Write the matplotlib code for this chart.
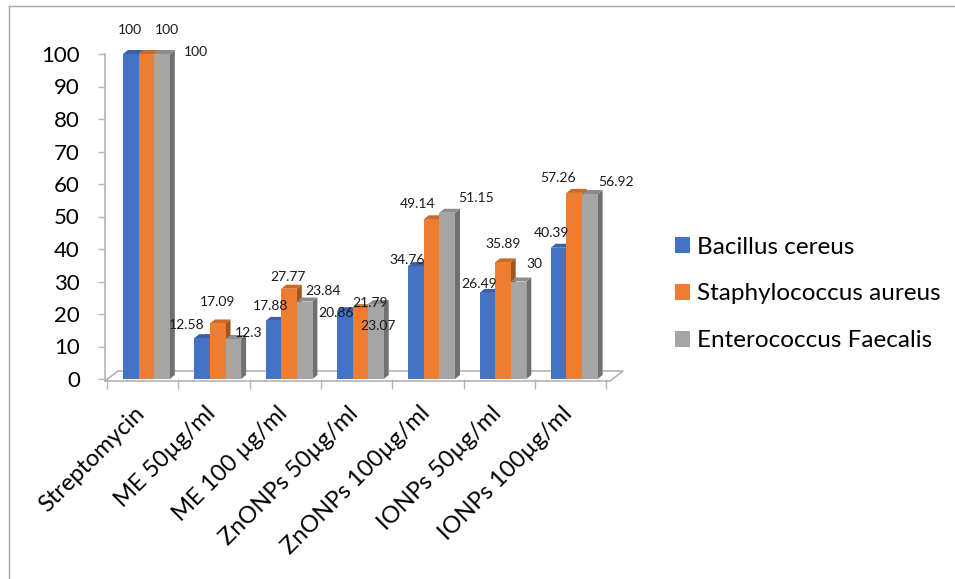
import numpy as np
import matplotlib.pyplot as plt
from matplotlib.patches import Polygon
from matplotlib.lines import Line2D
import matplotlib.colors as mcolors
import matplotlib.transforms as mtransforms

plt.rcParams['font.family'] = ['Lato', 'DejaVu Sans']

categories = ['Streptomycin', 'ME 50µg/ml', 'ME 100 µg/ml', 'ZnONPs 50µg/ml',
              'ZnONPs 100µg/ml', 'IONPs 50µg/ml', 'IONPs 100µg/ml']
series = ['Bacillus cereus', 'Staphylococcus aureus', 'Enterococcus Faecalis']
bacillus = [100, 12.58, 17.88, 20.86, 34.76, 26.49, 40.39]
staph = [100, 17.09, 27.77, 21.79, 49.14, 35.89, 57.26]
entero = [100, 12.3, 23.84, 23.07, 51.15, 30, 56.92]
colors = ['#4472C4', '#ED7D31', '#A5A5A5']

# data label offsets in pixels (dx, dy downwards), Excel puts them oddly in 3D
label_off = [
    [(-1, -24), (-15, -13), (-3, -15), (-9, 2), (-9, -6), (-8, -9), (-7, -15)],
    [(21, -24), (0, -21), (-1, -12), (10, -5), (-14, -15), (0, -18), (-16, -15)],
    [(34, -2), (15, -6), (18, -11), (2, 22), (29, -15), (16, -17), (26, -12)],
]

W, H = 955, 579
fig = plt.figure(figsize=(W / 100, H / 100), dpi=100)

# pixel layout of the plot area
cat_w = 71.3          # px per category
x0_px = 107           # left edge of first category
ax_l, ax_r = 105, 640
y0_px, y100_px = 379, 54
ax = fig.add_axes([ax_l / W, 1 - y0_px / H, (ax_r - ax_l) / W, (y0_px - y100_px) / H])
ax.set_xlim(-0.5 - (x0_px - ax_l) / cat_w, -0.5 + (ax_r - x0_px) / cat_w)
ax.set_ylim(0, 100)
px_y = 100 / (y0_px - y100_px)   # data units per pixel (y)
px_x = 1 / cat_w                 # data units per pixel (x)

bw = 15.6 * px_x
g_left = -0.5 + 16 * px_x
ddx, ddy = 5 * px_x, 4 * px_y

x = np.arange(len(categories))
vals = [bacillus, staph, entero]
bars = []
for j, (v, c) in enumerate(zip(vals, colors)):
    left = x + g_left + j * bw
    b = ax.bar(left, v, width=bw, align='edge', color=c, zorder=3 + j * 3, clip_on=False,
               label=series[j])
    bars.append(b)
    rgb = np.array(mcolors.to_rgb(c))
    side_c = rgb * 0.68
    top_c = rgb * 0.85
    for xl, h in zip(left, v):
        xr = xl + bw
        side = Polygon([(xr, 0), (xr + ddx, ddy), (xr + ddx, h + ddy), (xr, h)],
                       closed=True, color=side_c, zorder=2 + j * 3, clip_on=False, lw=0)
        top = Polygon([(xl, h), (xl + ddx, h + ddy), (xr + ddx, h + ddy), (xr, h)],
                      closed=True, color=top_c, zorder=2 + j * 3, clip_on=False, lw=0)
        ax.add_patch(side)
        ax.add_patch(top)

# data labels
for j, v in enumerate(vals):
    for i, h in enumerate(v):
        cx = i + g_left + (j + 0.5) * bw
        dx, dy = label_off[j][i]
        ax.annotate(f'{h:g}', xy=(cx, h), xytext=(dx, -dy), textcoords='offset pixels',
                    ha='center', va='center', fontsize=10, color='#1a1a1a', zorder=20,
                    annotation_clip=False)

# floor of the 3D plot
axis_c = '#B4B4B4'
fx0, fx1 = -0.5 - 2 * px_x, -0.5 + 503 * px_x
fdx, fdy = 13 * px_x, 10 * px_y
floor = [(fx0, -2 * px_y), (fx1, -2 * px_y), (fx1 + fdx, -2 * px_y + fdy),
         (fx0 + fdx, -2 * px_y + fdy), (fx0, -2 * px_y)]
fxs, fys = zip(*floor)
ax.plot(fxs, fys, color=axis_c, lw=1.2, clip_on=False, zorder=1)

for s in ['top', 'right', 'bottom']:
    ax.spines[s].set_visible(False)
ax.spines['left'].set_color(axis_c)
ax.spines['left'].set_linewidth(1.2)
ax.spines['left'].set_bounds(-2 * px_y, 100)

ax.set_yticks(np.arange(0, 101, 10))
ax.tick_params(axis='y', length=5, width=1, color=axis_c, labelsize=16, pad=13,
               labelcolor='#000000')
ax.set_xticks(x)
ax.set_xticklabels(categories, rotation=45, ha='right', rotation_mode='anchor', fontsize=17)
ax.tick_params(axis='x', which='major', length=0, pad=17)
shift = mtransforms.ScaledTranslation(-9 / 100, 0, fig.dpi_scale_trans)
for lbl in ax.get_xticklabels():
    lbl.set_transform(lbl.get_transform() + shift)
ax.set_xticks(np.arange(-0.5, len(categories), 1), minor=True)
ax.tick_params(axis='x', which='minor', length=7, width=1, color=axis_c)

fig.legend(handles=[b.patches[0] for b in bars], labels=series, loc='center left',
           bbox_to_anchor=(675 / W, 1 - 294 / H), frameon=False, fontsize=17.5,
           handlelength=0.62, handleheight=0.62, handletextpad=0.3,
           labelspacing=1.06, borderpad=0, borderaxespad=0)

# chart frame
fig.add_artist(Line2D([9 / W, 1], [1 - 6 / H, 1 - 6 / H], color='#A8A8A8', lw=1))
fig.add_artist(Line2D([9 / W, 9 / W], [0, 1 - 6 / H], color='#A8A8A8', lw=1))

fig.savefig('out.png', dpi=100)
